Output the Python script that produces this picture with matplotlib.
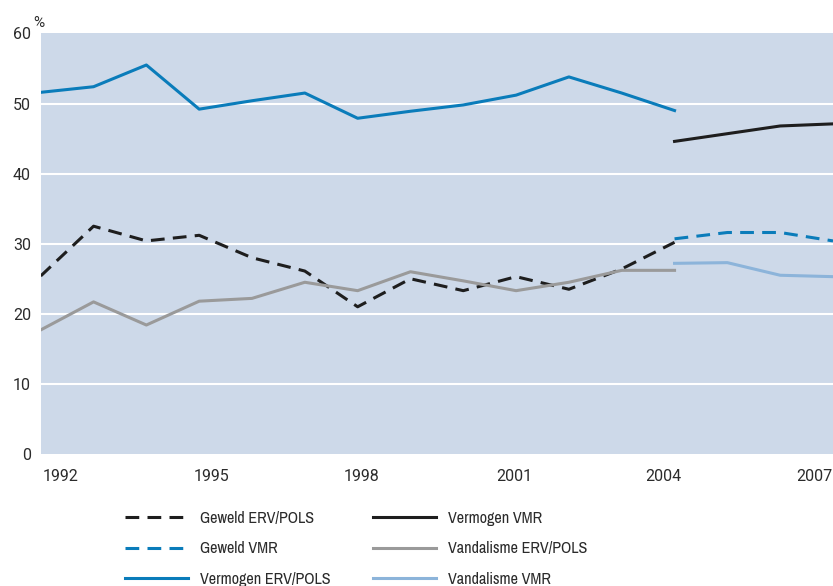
import matplotlib
matplotlib.use("Agg")
import matplotlib.pyplot as plt
from matplotlib import font_manager

# survey years
years_pols = [1992, 1993, 1994, 1995, 1996, 1997, 1998, 1999, 2000, 2001, 2002, 2003, 2004]
years_vmr = [2004, 2005, 2006, 2007]

# percentages
geweld_pols = [25.4, 32.5, 30.4, 31.2, 28.0, 26.1, 21.0, 25.0, 23.3, 25.3, 23.5, 26.4, 30.2]
vermogen_pols = [51.6, 52.4, 55.5, 49.2, 50.4, 51.5, 47.9, 48.9, 49.8, 51.2, 53.8, 51.5, 49.0]
vandalisme_pols = [17.7, 21.7, 18.4, 21.8, 22.2, 24.5, 23.3, 26.0, 24.7, 23.3, 24.5, 26.2, 26.2]

geweld_vmr = [30.7, 31.6, 31.6, 30.4]
vermogen_vmr = [44.6, 45.7, 46.8, 47.1]
vandalisme_vmr = [27.2, 27.3, 25.5, 25.3]

tick_labels = ["1992", "1995", "1998", "2001", "2004", "2007"]
tick_pos = [1992.37, 1995.23, 1998.08, 2000.97, 2003.79, 2006.64]

blue = "#0a7cba"
lightblue = "#8cb4da"
black = "#1e1e1e"
grey = "#9a9a9a"
textc = "#2b2b2b"

plt.rcParams["font.family"] = ["Roboto", "DejaVu Sans"]

# legend text in the original is a condensed face; use a narrow one if there is one
narrow = None
for f in font_manager.fontManager.ttflist:
    if "Narrow" in f.name or "Condensed" in f.name:
        narrow = f.name
        break
if narrow:
    leg_font = {"family": [narrow, "Roboto"], "size": 11.6}
else:
    leg_font = {"family": ["Roboto"], "size": 11, "stretch": "condensed"}

fig = plt.figure(figsize=(8.33, 5.86), dpi=100)
ax = fig.add_axes([0.0489, 0.2253, 0.9511, 0.7176])
ax.set_facecolor("#cdd9e9")

lw = 2.2
dash = (4.5, 2.7)
l1, = ax.plot(years_pols, geweld_pols, color=black, lw=lw, dashes=dash)
l2, = ax.plot(years_vmr, geweld_vmr, color=blue, lw=lw, dashes=dash)
l3, = ax.plot(years_pols, vermogen_pols, color=blue, lw=lw)
l4, = ax.plot(years_vmr, vermogen_vmr, color=black, lw=lw)
l5, = ax.plot(years_pols, vandalisme_pols, color=grey, lw=lw)
l6, = ax.plot(years_vmr, vandalisme_vmr, color=lightblue, lw=lw)

ax.set_xlim(1992, 2007)
ax.set_ylim(0, 60)
ax.set_yticks(range(0, 61, 10))
ax.set_xticks(tick_pos, tick_labels)
for y in range(10, 60, 10):
    ax.axhline(y, color="white", lw=1.5, zorder=1)

for s in ax.spines.values():
    s.set_visible(False)
ax.tick_params(axis="both", length=0, labelsize=11.5, labelcolor=textc)
ax.tick_params(axis="y", pad=7)
ax.tick_params(axis="x", pad=11)

fig.text(33 / 833, 1 - 27 / 586, "%", fontsize=11, color=textc)

kw = dict(loc="upper left", frameon=False, prop=leg_font, handlelength=3.9,
          handletextpad=0.75, labelspacing=0.95, borderpad=0, borderaxespad=0,
          labelcolor=textc)
leg1 = fig.legend([l1, l2, l3], ["Geweld ERV/POLS", "Geweld VMR", "Vermogen ERV/POLS"],
                  bbox_to_anchor=(125 / 833, 0.128), **kw)
leg2 = fig.legend([l4, l5, l6], ["Vermogen VMR", "Vandalisme ERV/POLS", "Vandalisme VMR"],
                  bbox_to_anchor=(373 / 833, 0.128), **kw)

fig.savefig("out.png", dpi=100)
